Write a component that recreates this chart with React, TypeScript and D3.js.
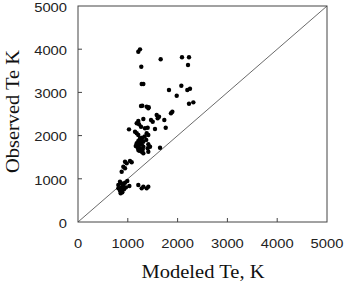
import React from 'react';
import * as d3 from 'd3';

// (K)
const modeled = [
  1211, 1245, 1271, 1660, 2088, 2229, 2209, 1279, 1312, 1827, 2075, 1982, 2195, 2249, 2229, 2316,
  1291, 1420, 1265, 1412, 1379, 1894, 1867, 1580, 1627, 1600, 1312, 1466, 1500, 1733, 1211, 1179,
  1225, 1265, 1345, 1399, 1024, 1546, 1761, 1145, 1179, 1211, 1379, 1412, 1245, 1279, 1211, 1312,
  1179, 1225, 1279, 1199, 1245, 1312, 1412, 1446, 1399, 1412, 1647, 1279, 1312, 1211, 1290, 1340,
  1160, 1250, 1300, 1230, 1370, 944, 978, 1044, 1078, 910, 944, 877, 843, 877, 910, 944, 990, 1031,
  810, 843, 890, 924, 964, 877, 810, 857, 860, 900, 1211, 1279, 1312, 1379, 1412,
];
const observed = [
  3942, 3997, 3595, 3766, 3812, 3812, 3634, 3194, 3194, 3056, 3155, 2924, 3056, 3086, 2738, 2770,
  2692, 2655, 2685, 2632, 2670, 2553, 2516, 2477, 2437, 2400, 2384, 2361, 2322, 2361, 2338, 2285,
  2262, 2206, 2169, 2183, 2145, 2153, 2183, 2090, 2053, 2014, 2053, 2014, 1937, 1898, 1875, 1860,
  1822, 1782, 1799, 1720, 1706, 1743, 1799, 1743, 1706, 1627, 1720, 1627, 1590, 1667, 1950, 1980,
  1760, 1840, 1680, 1650, 1900, 1396, 1358, 1412, 1382, 1280, 1243, 1164, 933, 895, 856, 910, 949,
  833, 779, 725, 687, 756, 802, 802, 856, 664, 740, 820, 856, 779, 818, 779, 818,
];
const ticks = [0, 1000, 2000, 3000, 4000, 5000];

const left = 78;
const right = 327;
const top = 6;
const bottom = 222;

export default function App() {
  const x = d3.scaleLinear().domain([0, 5000]).range([left, right]);
  const y = d3.scaleLinear().domain([0, 5000]).range([bottom, top]);
  const diag = d3.line<number>().x((d) => x(d)).y((d) => y(d))([0, 5000]) || '';
  // labels in the picture are a bit wider than the font
  const w = (t: number) => String(t).length * 8.2;

  return (
    <svg
      width={344}
      height={281}
      style={{ position: 'absolute', left: 0, top: 0, background: '#fff' }}
    >
      <rect x={left} y={top} width={right - left} height={bottom - top} fill="none" stroke="#444" strokeWidth={1} />
      <path d={diag} stroke="#444" strokeWidth={0.8} fill="none" />
      {ticks.slice(1, -1).map((t) => (
        <g key={t}>
          <line x1={x(t)} x2={x(t)} y1={bottom} y2={bottom - 4} stroke="#444" />
          <line x1={left} x2={left + 4} y1={y(t)} y2={y(t)} stroke="#444" />
        </g>
      ))}
      <g fontFamily="Liberation Sans, Arial, sans-serif" fontSize={12} fill="#222">
        {ticks.map((t) => (
          <text key={'x' + t} x={x(t) - w(t) / 2} y={248} textLength={w(t)} lengthAdjust="spacingAndGlyphs">
            {t}
          </text>
        ))}
        {ticks.map((t) => (
          <text key={'y' + t} x={67 - w(t)} y={y(t) + 5.8} textLength={w(t)} lengthAdjust="spacingAndGlyphs">
            {t}
          </text>
        ))}
      </g>
      {modeled.map((m, i) => (
        <circle key={i} cx={x(m)} cy={y(observed[i])} r={2.2} fill="#000" />
      ))}
      <g fontFamily="Liberation Serif, Times New Roman, serif" fontSize={19.5} fill="#111">
        <text x={141.5} y={278} textLength={123} lengthAdjust="spacingAndGlyphs">
          Modeled Te, K
        </text>
        <text transform="translate(19,173) rotate(-90)" textLength={123} lengthAdjust="spacingAndGlyphs">
          Observed Te K
        </text>
      </g>
    </svg>
  );
}
